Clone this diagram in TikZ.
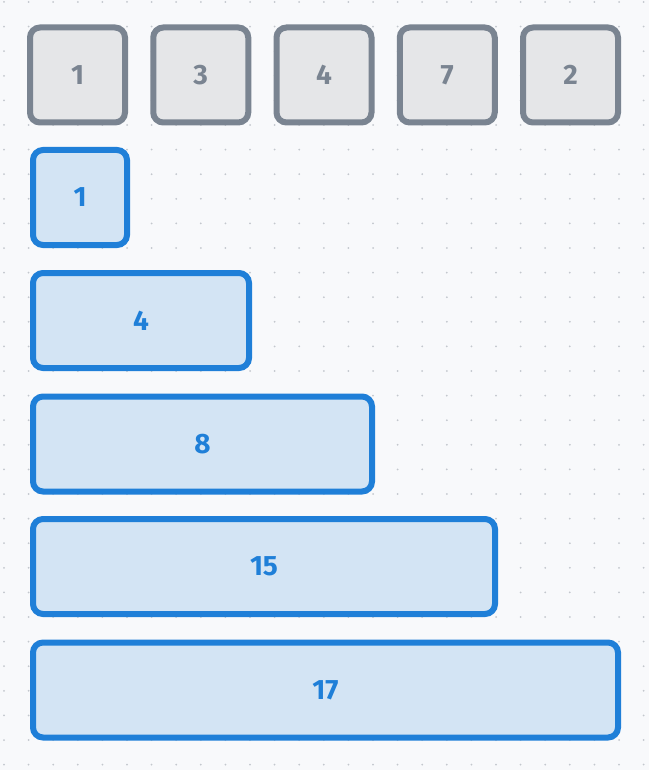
\documentclass[tikz,border=0pt]{standalone}
\usepackage{fontspec}
\setmainfont{Fira Sans}
\usepackage{xcolor}
\usepackage{tikz}
\usetikzlibrary{positioning}

\definecolor{paper}{HTML}{F8F9FB}
\definecolor{griddot}{HTML}{C3C7CD}
\definecolor{inputline}{HTML}{7A8491}
\definecolor{inputfill}{HTML}{E5E6E8}
\definecolor{sumline}{HTML}{1F7FD8}
\definecolor{sumfill}{HTML}{D3E4F4}

\tikzset{
  cell/.style={draw, line width=6pt, rounded corners=10pt, minimum height=95pt,
    inner sep=0pt, font=\fontsize{28}{32}\selectfont\bfseries},
  inputcell/.style={cell, draw=inputline, fill=inputfill, text=inputline, minimum width=95pt},
  sumcell/.style={cell, draw=sumline, fill=sumfill, text=sumline, anchor=west}
}

\begin{document}
\begin{tikzpicture}[x=1pt, y=-1pt]
% page and dotted grid
\fill[paper] (0,0) rectangle (649,770);
\useasboundingbox (0,0) rectangle (649,770);
\foreach \i in {0,...,26} {
  \foreach \j in {0,...,31} {
    \fill[griddot] ({4+24.6*\i},{2+24.6*\j}) circle (1pt);
  }
}

% input values
\node[inputcell] (in1) at (77.5,75) {1};
\node[inputcell] (in2) at (200.75,75) {3};
\node[inputcell] (in3) at (324,75) {4};
\node[inputcell] (in4) at (447.25,75) {7};
\node[inputcell] (in5) at (570.5,75) {2};

% running sums
\node[sumcell, minimum width=94pt] (sum1) at (30,197.5) {1};
\node[sumcell, minimum width=216pt] (sum2) at (30,320.5) {4};
\node[sumcell, minimum width=339pt] (sum3) at (30,444) {8};
\node[sumcell, minimum width=462pt] (sum4) at (30,566.5) {15};
\node[sumcell, minimum width=585pt] (sum5) at (30,690) {17};
\end{tikzpicture}
\end{document}
